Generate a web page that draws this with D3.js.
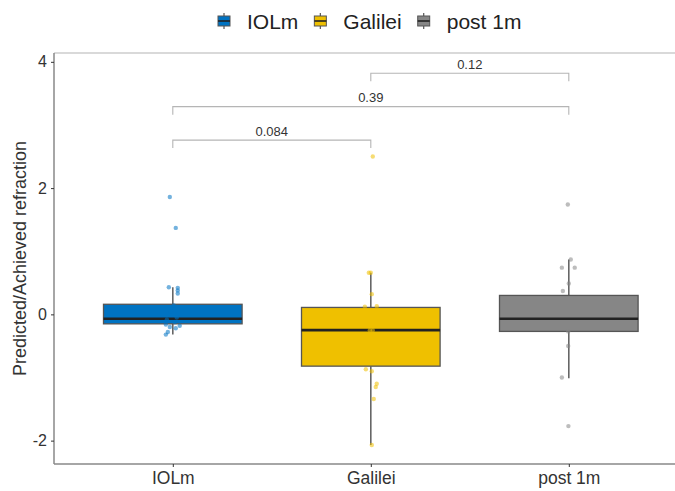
<!DOCTYPE html>
<html><head><meta charset="utf-8">
<script src="https://cdn.jsdelivr.net/npm/d3@7"></script>
<style>body{margin:0;background:#fff}svg{display:block;font-family:"Liberation Sans",Arial,sans-serif}</style>
</head><body><svg id="c" width="675" height="491"></svg>
<script>
const categories = ["IOLm", "Galilei", "post 1m"];
const colors = ["#0073C2", "#EFC000", "#868686"];
// box statistics: [whiskerLow, q1, median, q3, whiskerHigh]
const boxIOLm    = [-0.32, -0.15, -0.07, 0.16, 0.43];
const boxGalilei = [-2.07, -0.82, -0.25, 0.11, 0.66];
const boxPost    = [-1.01, -0.27, -0.07, 0.30, 0.87];
// jittered observations: [value, jitter offset in category units]
const ptsIOLm = [[1.86,-0.015],[1.37,0.015],[0.43,-0.02],[0.42,0.025],[0.38,0.025],[0.33,0.025],
  [0.14,0.005],[0.05,-0.01],[-0.05,0.02],[-0.08,-0.03],[-0.12,0.01],[-0.16,-0.035],[-0.18,0.035],
  [-0.2,-0.015],[-0.22,0.015],[-0.28,-0.025],[-0.32,-0.035]];
const ptsGalilei = [[2.5,0.01],[0.66,-0.01],[0.66,0.0],[0.32,0.005],[0.12,-0.03],[0.13,0.03],
  [-0.25,-0.005],[-0.25,0.01],[-0.87,-0.025],[-0.9,0.005],[-1.1,0.03],[-1.15,0.025],[-1.34,0.015],[-2.07,0.005]];
const ptsPost = [[1.74,-0.005],[0.87,0.01],[0.74,-0.035],[0.74,0.03],[0.49,0.0],[0.37,-0.03],
  [-0.27,-0.003],[-0.5,-0.003],[-1.0,-0.035],[-1.77,-0.002]];
const yTicks = [-2, 0, 2, 4];
// significance brackets: [from, to, height, label]
const brackets = [["IOLm","Galilei",2.76,"0.084"],["IOLm","post 1m",3.29,"0.39"],["Galilei","post 1m",3.82,"0.12"]];

const boxes = [boxIOLm, boxGalilei, boxPost];
const pts = [ptsIOLm, ptsGalilei, ptsPost];

const svg = d3.select("#c");
const L = 54, T = 53, B = 464, Rfull = 687.6;
const x = d3.scalePoint().domain(categories).range([L, Rfull]).padding(0.6);
const step = x.step();
const y = d3.scaleLinear().domain([-2.37, 4.14]).range([B, T]);

// panel border top (light)
svg.append("line").attr("x1", L).attr("x2", 675).attr("y1", T).attr("y2", T)
  .attr("stroke", "#cccccc").attr("stroke-width", 1.5);

// boxes
const bw = step * 0.7;
categories.forEach((c, i) => {
  const s = boxes[i], cx = x(c);
  const g = svg.append("g");
  g.append("line").attr("x1", cx).attr("x2", cx).attr("y1", y(s[4])).attr("y2", y(s[3]))
    .attr("stroke", "#666").attr("stroke-width", 1.6);
  g.append("line").attr("x1", cx).attr("x2", cx).attr("y1", y(s[1])).attr("y2", y(s[0]))
    .attr("stroke", "#666").attr("stroke-width", 1.6);
  g.append("rect").attr("x", cx - bw/2).attr("width", bw).attr("y", y(s[3])).attr("height", y(s[1]) - y(s[3]))
    .attr("fill", colors[i]).attr("stroke", "#555").attr("stroke-width", 1.3);
  g.append("line").attr("x1", cx - bw/2).attr("x2", cx + bw/2).attr("y1", y(s[2])).attr("y2", y(s[2]))
    .attr("stroke", "#222").attr("stroke-width", 2.6);
});

// points
categories.forEach((c, i) => {
  svg.append("g").selectAll("circle").data(pts[i]).join("circle")
    .attr("cx", d => x(c) + d[1] * step).attr("cy", d => y(d[0])).attr("r", 2.2)
    .attr("fill", colors[i]).attr("opacity", 0.55);
});

// brackets
brackets.forEach(b => {
  const x1 = x(b[0]), x2 = x(b[1]), yy = y(b[2]), tk = 8;
  svg.append("path").attr("d", `M${x1},${yy+tk}V${yy}H${x2}V${yy+tk}`)
    .attr("fill", "none").attr("stroke", "#b5b5b5").attr("stroke-width", 1.1);
  svg.append("text").attr("x", (x1 + x2)/2).attr("y", yy - 4.5).attr("text-anchor", "middle")
    .attr("font-size", 13).attr("fill", "#333").text(b[3]);
});

// axes
const ya = svg.append("g").attr("transform", `translate(${L},0)`)
  .call(d3.axisLeft(y).tickValues(yTicks).tickSize(3).tickPadding(4).tickFormat(d => String(d)));
ya.select(".domain").attr("d", `M0,${T}V${B}`).attr("stroke", "#888").attr("stroke-width", 1.5);
ya.selectAll(".tick line").attr("stroke", "#333");
ya.selectAll(".tick text").attr("font-size", 16).attr("fill", "#333").attr("font-family", "Liberation Sans, Arial, sans-serif");

const xa = svg.append("g").attr("transform", `translate(0,${B})`)
  .call(d3.axisBottom(x).tickSize(3).tickPadding(5));
xa.select(".domain").attr("d", `M${L},0H675`).attr("stroke", "#888").attr("stroke-width", 1.5);
xa.selectAll(".tick line").attr("stroke", "#333");
xa.selectAll(".tick text").attr("font-size", 17.5).attr("fill", "#333").attr("font-family", "Liberation Sans, Arial, sans-serif");

// y title
svg.append("text").attr("transform", `translate(26,${(T+B)/2}) rotate(-90)`).attr("text-anchor", "middle")
  .attr("font-size", 18).attr("fill", "#333").text("Predicted/Achieved refraction");

// legend
const lg = svg.append("g");
let lx = 218;
categories.forEach((c, i) => {
  const g = lg.append("g").attr("transform", `translate(${lx},0)`);
  g.append("line").attr("x1", 6).attr("x2", 6).attr("y1", 13).attr("y2", 29).attr("stroke", "#555").attr("stroke-width", 1.2);
  g.append("rect").attr("x", 0).attr("y", 16).attr("width", 12).attr("height", 10)
    .attr("fill", colors[i]).attr("stroke", "#555").attr("stroke-width", 1);
  g.append("line").attr("x1", 0).attr("x2", 12).attr("y1", 21).attr("y2", 21).attr("stroke", "#222").attr("stroke-width", 1.6);
  const t = g.append("text").attr("x", 29).attr("y", 29).attr("font-size", 21).attr("fill", "#222").text(c);
  lx += 29 + t.node().getComputedTextLength() + 16;
});
</script></body></html>
